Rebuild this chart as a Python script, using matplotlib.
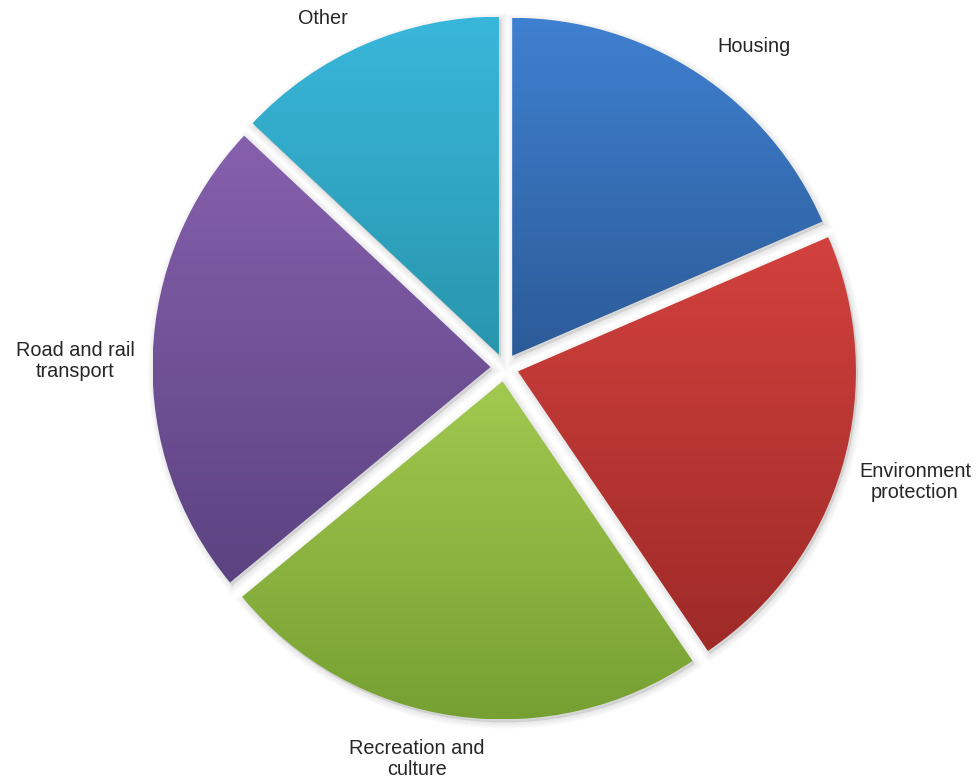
import numpy as np
import matplotlib
matplotlib.use("Agg")
import matplotlib.pyplot as plt
from matplotlib.patches import Wedge
from matplotlib.colors import LinearSegmentedColormap

plt.rcParams['font.family'] = ['Liberation Sans', 'DejaVu Sans']

# Share of spending by area (%)
categories = ["Housing", "Environment\nprotection", "Recreation and\nculture",
              "Road and rail\ntransport", "Other"]
shares = [18.5, 22.0, 23.5, 23.0, 13.0]

# Gradient colours per slice: (top, bottom)
top_colors = ["#3F80D0", "#D2413D", "#A2C94F", "#8660AD", "#39B7DB"]
bottom_colors = ["#2C5B98", "#9E2A28", "#76A032", "#5B4381", "#2895AC"]

W, H = 980, 780
fig = plt.figure(figsize=(W / 100, H / 100), dpi=100)
ax = fig.add_axes([0, 0, 1, 1])

cx, cy = 504.5, H - 367.5
radius = 338
gap = 14

wedges, _ = ax.pie(shares, startangle=90, counterclock=False, radius=radius,
                   center=(cx, cy), explode=[gap] * len(shares),
                   wedgeprops=dict(facecolor="none", edgecolor="none"))

grad = np.linspace(1, 0, 256).reshape(-1, 1)
for w, ctop, cbot in zip(wedges, top_colors, bottom_colors):
    # soft shadow beneath each slice
    for k in range(1, 9):
        sh = Wedge((w.center[0] + 2, w.center[1] - 3), w.r, w.theta1, w.theta2,
                   facecolor="black", edgecolor="black", linewidth=k * 1.2,
                   alpha=0.012, zorder=0.5)
        ax.add_patch(sh)
    ext = w.get_path().get_extents()
    cmap = LinearSegmentedColormap.from_list("g", [cbot, ctop])
    im = ax.imshow(grad, cmap=cmap, extent=(ext.x0, ext.x1, ext.y0, ext.y1),
                   aspect="auto", interpolation="bicubic", zorder=1)
    im.set_clip_path(w)

label_pos = [(754, 47), (915, 482), (417, 759), (75, 361), (323, 18)]
for text, (x, y) in zip(categories, label_pos):
    ax.text(x, H - y, text, ha="center", va="center", fontsize=14.3,
            color="#262626", linespacing=1.15, zorder=3)

ax.set_xlim(0, W)
ax.set_ylim(0, H)
ax.set_aspect("auto")
ax.axis("off")

fig.savefig("out.png", dpi=100, facecolor="white")
